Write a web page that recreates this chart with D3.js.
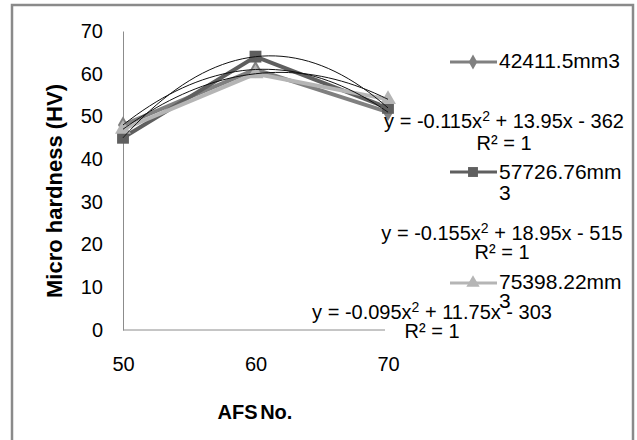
<!DOCTYPE html>
<html>
    <head>
        <meta charset="utf-8">
        <script src="https://d3js.org/d3.v7.min.js"></script>
        <style>
          body { margin: 0; background: #fff; }
          text { font-family: "Liberation Sans", Arial, sans-serif; fill: #000; }
        </style>
    </head>
    <body>
        <div id="chart"></div>
        <script>
            // data
            const afsNo = [50, 60, 70];
            const yTicks = [0, 10, 20, 30, 40, 50, 60, 70];
            const s1 = [48, 61, 51];   // 42411.5mm3
            const s2 = [45, 64, 52];   // 57726.76mm3
            const s3 = [47, 60, 54];   // 75398.22mm3
            const seriesNames = [["42411.5mm3"], ["57726.76mm", "3"], ["75398.22mm", "3"]];
            const eqText = [
              ["y = -0.115x", " + 13.95x - 362"],
              ["y = -0.155x", " + 18.95x - 515"],
              ["y = -0.095x", " + 11.75x - 303"]
            ];

            const width = 637, height = 440;

            const svg = d3.select("#chart")
              .append("svg")
                .attr("width", width)
                .attr("height", height);

            // outer frame (bottom edge falls outside the picture)
            svg.append("rect")
              .attr("x", 12).attr("y", 5)
              .attr("width", 621).attr("height", 445)
              .attr("fill", "none")
              .attr("stroke", "#8a8a8a")
              .attr("stroke-width", 2.5);

            const x = d3.scaleLinear().domain([50, 70]).range([123, 388]);
            const y = d3.scaleLinear().domain([0, 70]).range([330, 31]);

            // y axis
            const yAxis = svg.append("g")
              .attr("transform", "translate(123,0)")
              .call(d3.axisLeft(y).tickValues(yTicks).tickSize(0).tickPadding(20));
            yAxis.select(".domain").attr("stroke", "#8c8c8c");
            yAxis.selectAll("text").style("font-size", "20px").style("font-family", "Liberation Sans, Arial");

            // x axis
            const xAxis = svg.append("g")
              .attr("transform", "translate(0,330)")
              .call(d3.axisBottom(x).tickValues(afsNo).tickSize(0).tickPadding(27).tickFormat(d3.format("d")));
            xAxis.select(".domain").attr("stroke", "#8c8c8c").attr("d", "M123,0H385");
            xAxis.selectAll("text").style("font-size", "20px").style("font-family", "Liberation Sans, Arial");

            // axis titles
            svg.append("text")
              .attr("transform", "translate(62,191) rotate(-90)")
              .attr("text-anchor", "middle")
              .style("font-size", "22px")
              .style("font-weight", "bold")
              .text("Micro hardness (HV)");

            svg.append("text")
              .attr("x", 255).attr("y", 419)
              .attr("text-anchor", "middle")
              .style("font-size", "20px")
              .style("font-weight", "bold")
              .style("word-spacing", "-3px")
              .text("AFS No.");

            const series = [
              {values: s1, color: "#808080", shape: d3.symbolDiamond, size: 90},
              {values: s2, color: "#5f5f5f", shape: d3.symbolSquare, size: 140},
              {values: s3, color: "#b5b5b5", shape: d3.symbolTriangle, size: 110}
            ];

            const line = d3.line()
              .x((d, i) => x(afsNo[i]))
              .y(d => y(d));

            series.forEach(function(s) {
              svg.append("path")
                .datum(s.values)
                .attr("d", line)
                .attr("fill", "none")
                .attr("stroke", s.color)
                .attr("stroke-width", 4)
                .attr("stroke-linejoin", "round");
              svg.selectAll(null)
                .data(s.values)
                .join("path")
                  .attr("transform", (d, i) => `translate(${x(afsNo[i])},${y(d)})`)
                  .attr("d", d3.symbol().type(s.shape).size(s.size))
                  .attr("fill", s.color);
            });

            // polynomial (order 2) trendlines through the three points of each series
            function quadFit(xs, ys) {
              return function(t) {
                let v = 0;
                for (let i = 0; i < 3; i++) {
                  let p = ys[i];
                  for (let j = 0; j < 3; j++) if (j !== i) p *= (t - xs[j]) / (xs[i] - xs[j]);
                  v += p;
                }
                return v;
              };
            }
            const xs = d3.range(50, 70.01, 0.5);
            series.forEach(function(s) {
              const f = quadFit(afsNo, s.values);
              svg.append("path")
                .datum(xs)
                .attr("d", d3.line().x(t => x(t)).y(t => y(f(t))).curve(d3.curveBasis))
                .attr("fill", "none")
                .attr("stroke", "#111")
                .attr("stroke-width", 1);
            });

            // legend
            const legendRows = [
              {lineY: 62, textY: [68]},
              {lineY: 172, textY: [179, 200]},
              {lineY: 283, textY: [289, 308]}
            ];
            legendRows.forEach(function(r, i) {
              const s = series[i];
              svg.append("line")
                .attr("x1", 450).attr("x2", 497)
                .attr("y1", r.lineY).attr("y2", r.lineY)
                .attr("stroke", s.color)
                .attr("stroke-width", 3);
              svg.append("path")
                .attr("transform", `translate(473,${r.lineY})`)
                .attr("d", d3.symbol().type(s.shape).size(s.size * 0.7))
                .attr("fill", s.color);
              seriesNames[i].forEach(function(t, k) {
                svg.append("text")
                  .attr("x", 499).attr("y", r.textY[k])
                  .style("font-size", "21px")
                  .text(t);
              });
            });

            // trendline equations
            const eqPos = [
              {cx: 504, y: 128, r2y: 150},
              {cx: 502, y: 240, r2y: 259},
              {cx: 432, y: 319, r2y: 338}
            ];
            eqPos.forEach(function(p, i) {
              const t = svg.append("text")
                .attr("x", p.cx).attr("y", p.y)
                .attr("text-anchor", "middle")
                .style("font-size", "20px");
              t.append("tspan").text(eqText[i][0]);
              t.append("tspan").attr("dy", -7).style("font-size", "14px").text("2");
              t.append("tspan").attr("dy", 7).text(eqText[i][1]);
              svg.append("text")
                .attr("x", p.cx).attr("y", p.r2y)
                .attr("text-anchor", "middle")
                .style("font-size", "20px")
                .text("R² = 1");
            });
        </script>
    </body>
</html>
